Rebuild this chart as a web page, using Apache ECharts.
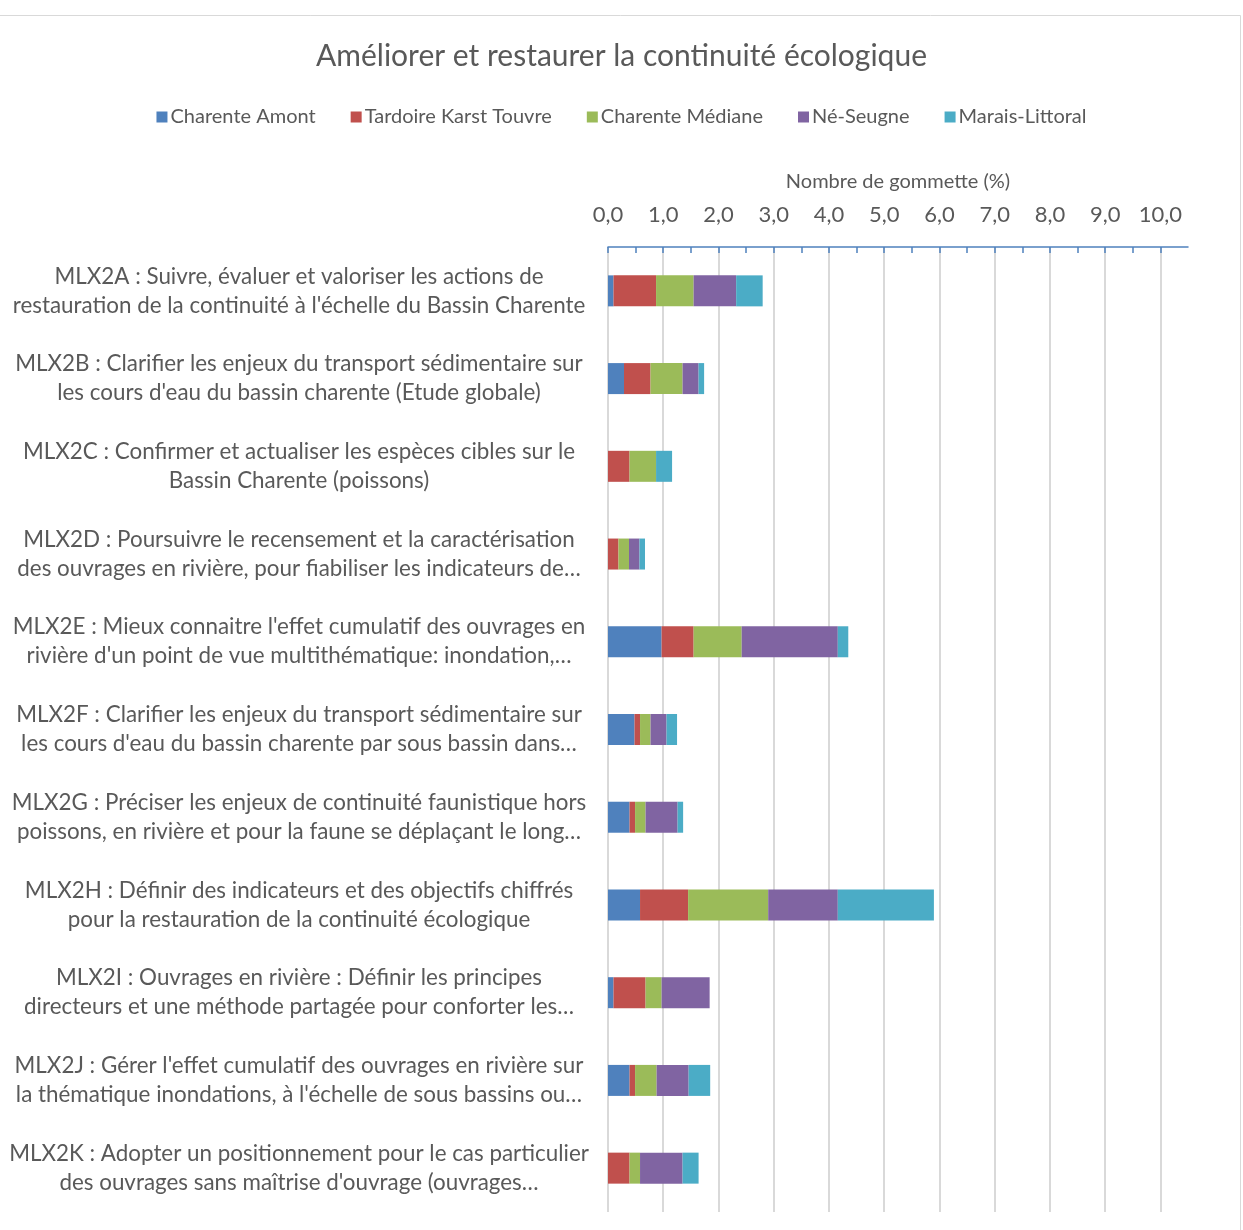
<!DOCTYPE html>
<html>
<head>
<meta charset="utf-8">
<style>
html, body { margin: 0; padding: 0; background: #fff; }
#myChart { width: 1243px; height: 1230px; }
</style>
<script src="https://cdn.jsdelivr.net/npm/echarts@6/dist/echarts.min.js"></script>
</head>
<body>
<div id="myChart"></div>
<script>
// categories (axis labels, top to bottom)
var categories = [
  "MLX2A : Suivre, évaluer et valoriser les actions de\nrestauration de la continuité à l'échelle du Bassin Charente",
  "MLX2B : Clarifier les enjeux du transport sédimentaire sur\nles cours d'eau du bassin charente (Etude globale)",
  "MLX2C : Confirmer et actualiser les espèces cibles sur le\nBassin Charente (poissons)",
  "MLX2D : Poursuivre le recensement et la caractérisation\ndes ouvrages en rivière, pour fiabiliser les indicateurs de…",
  "MLX2E : Mieux connaitre l'effet cumulatif des ouvrages en\nrivière d'un point de vue multithématique: inondation,…",
  "MLX2F : Clarifier les enjeux du transport sédimentaire sur\nles cours d'eau du bassin charente par sous bassin dans…",
  "MLX2G : Préciser les enjeux de continuité faunistique hors\npoissons, en rivière et pour la faune se déplaçant le long…",
  "MLX2H : Définir des indicateurs et des objectifs chiffrés\npour la restauration de la continuité écologique",
  "MLX2I : Ouvrages en rivière : Définir les principes\ndirecteurs et une méthode partagée pour conforter les…",
  "MLX2J : Gérer l'effet cumulatif des ouvrages en rivière sur\nla thématique inondations, à l'échelle de sous bassins ou…",
  "MLX2K : Adopter un positionnement pour le cas particulier\ndes ouvrages sans maîtrise d'ouvrage (ouvrages…"
]

var charenteAmont = [0.10, 0.29, 0, 0, 0.97, 0.48, 0.39, 0.58, 0.10, 0.39, 0]
var tardoire = [0.77, 0.48, 0.39, 0.19, 0.58, 0.10, 0.10, 0.87, 0.58, 0.10, 0.39]
var charenteMediane = [0.68, 0.58, 0.48, 0.19, 0.87, 0.19, 0.19, 1.45, 0.29, 0.39, 0.19]
var neSeugne = [0.77, 0.29, 0, 0.19, 1.74, 0.29, 0.58, 1.26, 0.87, 0.58, 0.77]
var maraisLittoral = [0.48, 0.10, 0.29, 0.10, 0.19, 0.19, 0.10, 1.74, 0, 0.39, 0.29]

var seriesNames = ['Charente Amont', 'Tardoire Karst Touvre', 'Charente Médiane', 'Né-Seugne', 'Marais-Littoral']
var seriesColors = ['#4F81BD', '#C0504D', '#9BBB59', '#8064A2', '#4BACC6']
var seriesData = [charenteAmont, tardoire, charenteMediane, neSeugne, maraisLittoral]

var font = 'Lato, "Open Sans", sans-serif'
var textColor = '#595959'

var myChart = echarts.init(document.getElementById('myChart'))

myChart.setOption({
  backgroundColor: '#fff',
  textStyle: { fontFamily: font },
  title: {
    text: 'Améliorer et restaurer la continuité écologique',
    left: 'center',
    top: 36,
    textStyle: { fontFamily: font, fontSize: 30, fontWeight: 'normal', color: textColor }
  },
  legend: {
    top: 102,
    left: 'center',
    icon: 'rect',
    itemWidth: 11,
    itemHeight: 11,
    itemGap: 35,
    textStyle: { fontFamily: font, fontSize: 20, color: textColor, padding: [0, 0, 0, -2] },
    data: seriesNames
  },
  // bordure de la zone du graphique
  graphic: [
    {
      type: 'polyline',
      shape: { points: [[0, 15.5], [1240.5, 15.5], [1240.5, 1230]] },
      style: { stroke: '#d9d9d9', lineWidth: 1, fill: null },
      silent: true
    }
  ],
  grid: {
    left: 608,
    right: 55,
    top: 247,
    bottom: 18
  },
  xAxis: {
    type: 'value',
    position: 'top',
    min: 0,
    max: 10.5,
    interval: 0.5,
    name: 'Nombre de gommette (%)',
    nameLocation: 'middle',
    nameGap: 55,
    nameTextStyle: { fontFamily: font, fontSize: 20, color: textColor },
    axisLine: { show: true, lineStyle: { color: '#4F81BD', width: 1.5 } },
    axisTick: { show: true, inside: true, length: 6, lineStyle: { color: '#4F81BD', width: 1.5 } },
    axisLabel: {
      margin: 21,
      fontFamily: font,
      fontSize: 22,
      color: textColor,
      showMaxLabel: false,
      formatter: function (v) {
        if (Math.abs(v - Math.round(v)) > 1e-6) return ''
        return v.toFixed(1).replace('.', ',')
      }
    },
    splitLine: {
      show: true,
      lineStyle: { color: ['#d9d9d9', 'rgba(0,0,0,0)'], width: 2 }
    }
  },
  yAxis: {
    type: 'category',
    inverse: true,
    data: categories,
    axisLine: { show: false },
    axisTick: { show: false },
    axisLabel: {
      align: 'center',
      margin: 309,
      fontFamily: font,
      fontSize: 22.4,
      lineHeight: 29,
      color: textColor
    }
  },
  series: seriesNames.map(function (name, i) {
    return {
      name: name,
      type: 'bar',
      stack: 'total',
      barWidth: 31,
      itemStyle: { color: seriesColors[i] },
      data: seriesData[i]
    }
  })
})
</script>
</body>
</html>
